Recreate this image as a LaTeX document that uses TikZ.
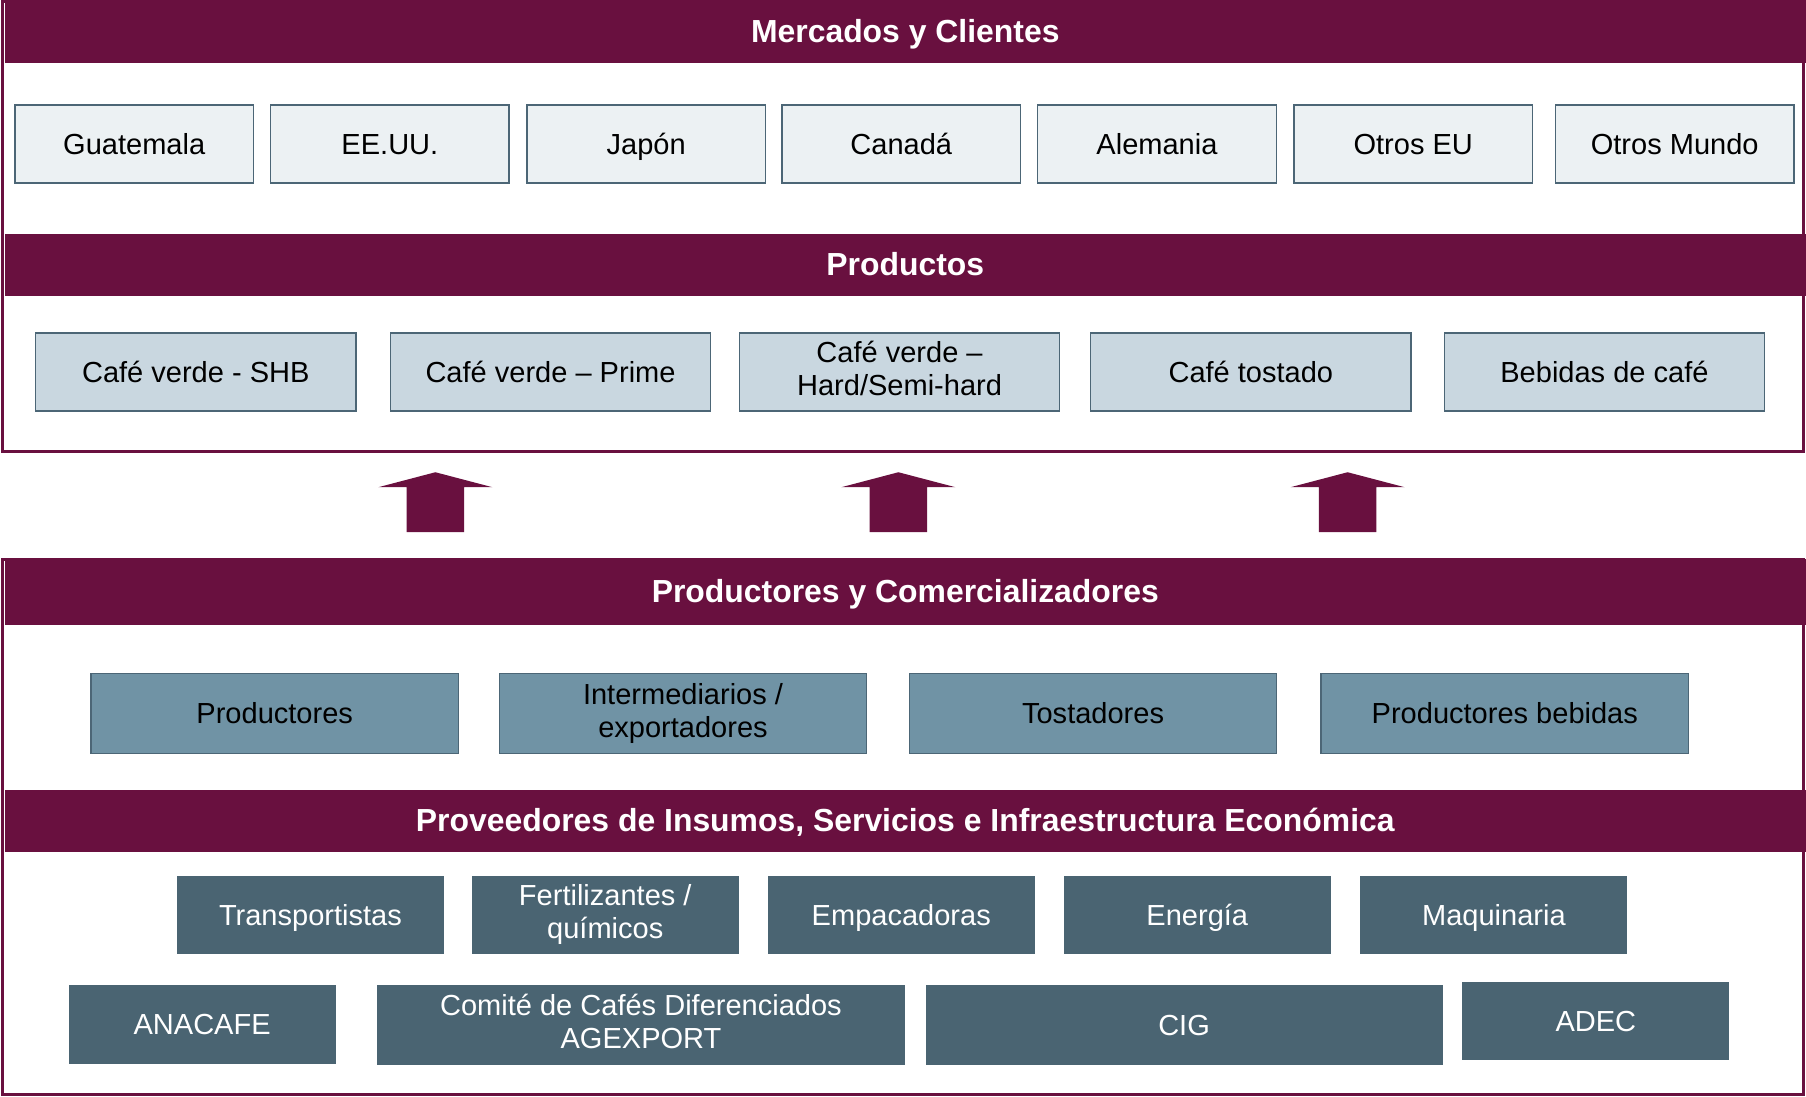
\documentclass[tikz,border=0pt]{standalone}
\usepackage{fontspec}
\setmainfont{Liberation Sans}
\usetikzlibrary{positioning}
\definecolor{vino}{HTML}{69103F}
\definecolor{mktfill}{HTML}{ECF1F3}
\definecolor{prodfill}{HTML}{C9D7E0}
\definecolor{actfill}{HTML}{7093A5}
\definecolor{provfill}{HTML}{4A6472}
\definecolor{boxline}{HTML}{4C6676}
\newcommand{\alto}{\rule[-6pt]{0pt}{30pt}}
\newcommand{\bajo}{\rule[-6pt]{0pt}{6pt}}

\begin{document}
\begin{tikzpicture}[x=1pt, y=-1pt, font=\fontsize{25.2}{28.7}\selectfont, execute at begin node=\alto]
\tikzstyle{band}=[fill=vino, text=white, font=\bfseries\fontsize{27.7}{32}\selectfont, minimum width=1564pt, inner sep=0pt]
\tikzstyle{cell}=[draw=boxline, line width=1.2pt, align=center, inner sep=0pt, minimum height=68pt]
\tikzstyle{doble}=[execute at begin node={\rule[-6pt]{0pt}{34pt}}]
\tikzstyle{mkt}=[cell, fill=mktfill, minimum width=207pt]
\tikzstyle{prod}=[cell, fill=prodfill, minimum width=278pt]
\tikzstyle{act}=[cell, fill=actfill, minimum width=319pt, minimum height=69pt]
\tikzstyle{prov}=[cell, fill=provfill, draw=white, text=white, minimum height=70pt]
\useasboundingbox (0,0) rectangle (1568,952);
% marcos
\draw[vino, line width=2.5pt] (2,1) rectangle (1566,392);
\draw[vino, line width=2.5pt] (2,486) rectangle (1566,950);
% bandas
\node[band, minimum height=55pt] (mercados) at (786,27.5) {Mercados y Clientes};
\node[band, minimum height=54pt] (productos) at (786,230) {Productos};
\node[band, minimum height=58pt] (comerc) at (786,514) {Productores y Comercializadores};
\node[band, minimum height=54pt] (proveed) at (786,713) {Proveedores de Insumos, Servicios e Infraestructura Económica};
% mercados
\foreach \n/\x/\t in {gua/116.5/{Guatemala}, usa/338.5/{EE.UU.}, jap/561/{Japón}, can/782.5/{Canadá}, ale/1004.5/{Alemania}, oeu/1227/{Otros EU}, omu/1454/{Otros Mundo}}{\node[mkt] (\n) at (\x,125) {\t};}
% productos
\foreach \n/\x/\t in {shb/170/{Café verde - SHB}, prime/478/{Café verde – Prime}, tost/1086/{Café tostado}, bebi/1393/{Bebidas de café}}{\node[prod] (\n) at (\x,323) {\t};}
\node[prod, doble] (hard) at (781,323) {Café verde –\\Hard/Semi-hard\bajo};
% flechas
\foreach \x in {378,780,1170}{\fill[vino] (\x,410) -- (\x+49.5,423) -- (\x+25,423) -- (\x+25,462) -- (\x-25,462) -- (\x-25,423) -- (\x-49.5,423) -- cycle;}
% productores y comercializadores
\foreach \n/\x/\t in {prodr/238.5/{Productores}, tostr/949/{Tostadores}, pbeb/1306.5/{Productores bebidas}}{\node[act] (\n) at (\x,619.5) {\t};}
\node[act, doble] (inter) at (593,619.5) {Intermediarios /\\exportadores\bajo};
% proveedores
\foreach \n/\x/\t in {trans/269.5/{Transportistas}, emp/782.5/{Empacadoras}, ener/1039.5/{Energía}, maq/1297/{Maquinaria}}{\node[prov, minimum width=233pt, minimum height=69pt] (\n) at (\x,794.5) {\t};}
\node[prov, doble, minimum width=233pt, minimum height=69pt] (fert) at (525.5,794.5) {Fertilizantes /\\químicos\bajo};
\node[prov, minimum width=233pt, minimum height=69pt] (anacafe) at (175.5,889.5) {ANACAFE};
\node[prov, doble, minimum width=459pt] (comite) at (556.5,890) {Comité de Cafés Diferenciados\\AGEXPORT\bajo};
\node[prov, minimum width=450pt] (cig) at (1028,890) {CIG};
\node[prov, minimum width=233pt, minimum height=69pt] (adec) at (1385.5,886.5) {ADEC};
\end{tikzpicture}
\end{document}
